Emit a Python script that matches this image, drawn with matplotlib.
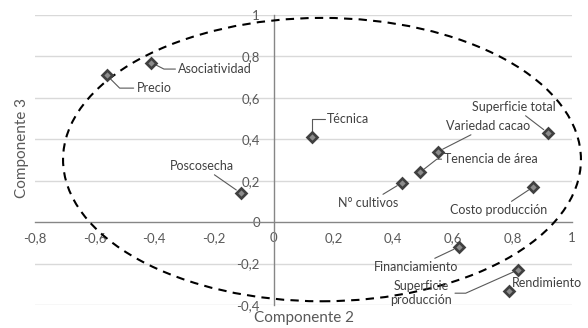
import numpy as np
import matplotlib
matplotlib.use('Agg')
import matplotlib.pyplot as plt
from matplotlib.patches import Ellipse

plt.rcParams['font.family'] = ['Lato', 'DejaVu Sans']

# Variables (componente 2, componente 3)
variables = ['Precio', 'Asociatividad', 'Técnica', 'Superficie total', 'Variedad cacao',
             'Tenencia de área', 'N° cultivos', 'Costo producción', 'Poscosecha',
             'Financiamiento', 'Superficie\nproducción', 'Rendimiento']
comp2 = [-0.56, -0.41, 0.13, 0.92, 0.55, 0.49, 0.43, 0.87, -0.11, 0.62, 0.82, 0.79]
comp3 = [0.71, 0.77, 0.41, 0.43, 0.34, 0.24, 0.19, 0.17, 0.14, -0.12, -0.23, -0.33]

x_ticks = [-0.8, -0.6, -0.4, -0.2, 0, 0.2, 0.4, 0.6, 0.8, 1]
y_ticks = [-0.4, -0.2, 0, 0.2, 0.4, 0.6, 0.8, 1]

# posicion de cada etiqueta: (x, y, alineacion, estilo de la linea guia, relpos)
etiquetas = {
    'Precio': (-0.46, 0.647, 'left', 'angle,angleA=0,angleB=-45,rad=0', (0, 0.5)),
    'Asociatividad': (-0.32, 0.739, 'left', 'angle,angleA=0,angleB=-27,rad=0', (0, 0.5)),
    'Técnica': (0.18, 0.497, 'left', 'angle,angleA=0,angleB=90,rad=0', (0, 0.5)),
    'Superficie total': (0.806, 0.556, 'center', 'arc3', (0.5, 0.5)),
    'Variedad cacao': (0.719, 0.464, 'center', 'arc3', (0.5, 0.5)),
    'Tenencia de área': (0.572, 0.304, 'left', 'angle,angleA=0,angleB=38,rad=0', (0, 0.5)),
    'N° cultivos': (0.318, 0.092, 'center', 'arc3', (0.5, 0.5)),
    'Costo producción': (0.753, 0.058, 'center', 'arc3', (0.5, 0.5)),
    'Poscosecha': (-0.241, 0.271, 'center', 'arc3', (0.5, 0.5)),
    'Financiamiento': (0.478, -0.217, 'center', 'arc3', (0.5, 0.5)),
    'Superficie\nproducción': (0.495, -0.343, 'center', 'angle,angleA=0,angleB=24,rad=0', (1, 0.5)),
    'Rendimiento': (0.799, -0.295, 'left', None, None),
}

fig = plt.figure(figsize=(5.88, 3.28), dpi=100)
ax = fig.add_axes([35 / 588, 23 / 328, 537 / 588, 290 / 328])

ax.set_xlim(-0.8, 1)
ax.set_ylim(-0.4, 1)

# rejilla horizontal
for y in y_ticks:
    if y != 0:
        ax.axhline(y, color='#d9d9d9', lw=1, zorder=0)

# ejes cruzando en cero
for s in ['top', 'right']:
    ax.spines[s].set_visible(False)
ax.spines['left'].set_position(('data', 0))
ax.spines['bottom'].set_position(('data', 0))
ax.spines['left'].set_color('#868686')
ax.spines['bottom'].set_color('#868686')
ax.spines['left'].set_linewidth(1)
ax.spines['bottom'].set_linewidth(1)

ax.set_xticks(x_ticks)
ax.set_yticks(y_ticks)
ax.set_xticklabels([('%g' % v).replace('.', ',') for v in x_ticks])
ax.set_yticklabels([('%g' % v).replace('.', ',') for v in y_ticks])
ax.tick_params(axis='both', length=0, labelsize=9.5, colors='#595959')
ax.tick_params(axis='x', pad=7)
ax.tick_params(axis='y', pad=10)

# elipse de referencia
elipse = Ellipse((0.162, 0.302), width=2 * 0.868, height=2 * 0.684, fill=False,
                 ls=(0, (4, 3)), lw=1.5, color='black', clip_on=False, zorder=3)
ax.add_patch(elipse)

ax.plot(comp2, comp3, ls='none', marker='D', markersize=4.8, mfc='#8c8c8c',
        mec='#404040', mew=1.9, zorder=5)

for nombre, x, y in zip(variables, comp2, comp3):
    tx, ty, ha, estilo, rel = etiquetas[nombre]
    if estilo is None:
        ax.text(tx, ty, nombre, ha=ha, va='center', fontsize=9, color='#404040',
                linespacing=1.25)
        continue
    ax.annotate(nombre, xy=(x, y), xytext=(tx, ty), ha=ha, va='center',
                fontsize=9, color='#404040', linespacing=1.25,
                arrowprops=dict(arrowstyle='-', color='#595959', lw=0.8,
                                connectionstyle=estilo, relpos=rel,
                                shrinkA=0, shrinkB=4))

fig.text(304 / 588, 1 - 318 / 328, 'Componente 2', ha='center', va='center',
         fontsize=11, color='#595959')
fig.text(22 / 588, 1 - 148 / 328, 'Componente 3', ha='center', va='center',
         rotation=90, fontsize=11, color='#595959')

fig.savefig('out.png', dpi=100)
